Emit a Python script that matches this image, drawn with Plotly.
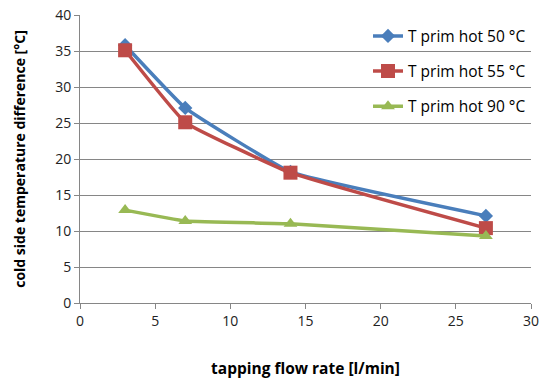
import plotly.graph_objects as go

flow = [3, 7, 14, 27]
t50 = [35.8, 27.1, 18.2, 12.1]
t55 = [35.1, 25.1, 18.1, 10.4]
t90 = [12.9, 11.4, 11.0, 9.3]
names = ["T prim hot 50 °C", "T prim hot 55 °C", "T prim hot 90 °C"]
colors = ["#4A7EBB", "#BE4B48", "#98B954"]
symbols = ["diamond", "square", "triangle-up"]
sizes = [11, 14, 12]

fig = go.Figure()
for i, ys in enumerate([t50, t55, t90]):
    fig.add_trace(go.Scatter(
        x=flow, y=ys, name=names[i], mode="lines+markers",
        line=dict(color=colors[i], width=3.5, shape="spline", smoothing=0.3),
        marker=dict(symbol=symbols[i], size=sizes[i], color=colors[i]),
        legendgroup=str(i),
    ))

font_family = "Open Sans, Liberation Sans, sans-serif"
fig.update_layout(
    width=542, height=385,
    margin=dict(l=80, r=11, t=15, b=82),
    paper_bgcolor="white", plot_bgcolor="white",
    font=dict(family=font_family, size=13, color="#000"),
    legend=dict(x=1.0, y=0.985, xanchor="right", yanchor="top",
                bgcolor="rgba(0,0,0,0)", tracegroupgap=12,
                font=dict(size=15.5)),
    xaxis=dict(range=[0, 30], dtick=5, showgrid=False, showline=True,
               linecolor="#868686", ticks="outside", tickcolor="#868686",
               ticklen=5, zeroline=False, automargin=False,
               tickfont=dict(size=14, color="#222"),
               title=dict(text="<b>tapping flow rate [l/min]</b>", standoff=34,
                          font=dict(size=15.5))),
    yaxis=dict(range=[0, 40], dtick=5, showgrid=True, gridcolor="#868686",
               gridwidth=1, showline=True, linecolor="#868686",
               ticks="outside", tickcolor="#868686", ticklen=5, zeroline=False,
               automargin=False, tickfont=dict(size=14, color="#222"),
               title=dict(text="<b>cold side temperature difference [°C]</b>", standoff=26,
                          font=dict(size=14))),
)
fig.write_html("out.html")
